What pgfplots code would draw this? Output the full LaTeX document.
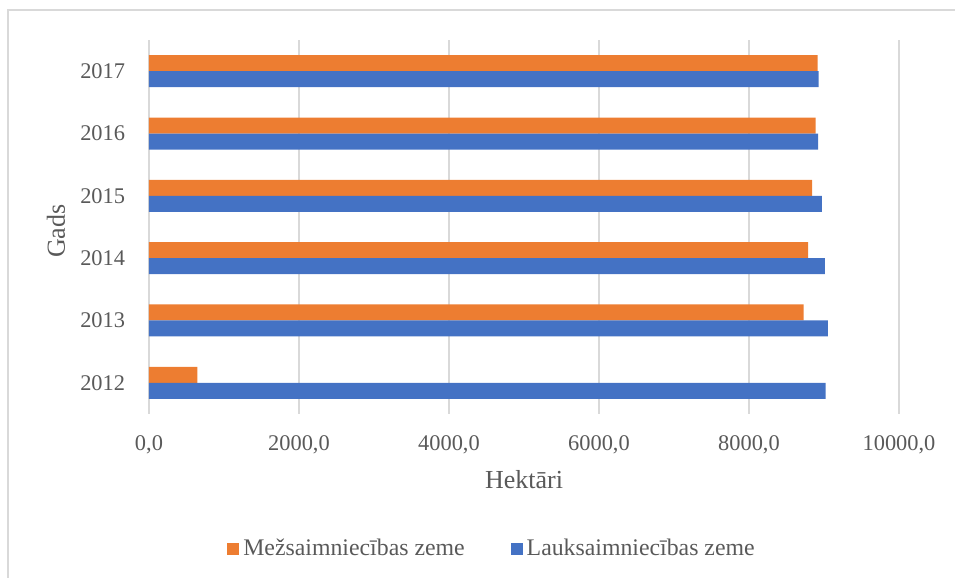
\documentclass[border=0pt]{standalone}
\usepackage{pgfplots}
\pgfplotsset{compat=1.18}
\usepackage{fontspec}
\setmainfont{Liberation Serif}
\definecolor{cOrange}{HTML}{ED7D31}
\definecolor{cBlue}{HTML}{4472C4}
\definecolor{cText}{HTML}{595959}
\definecolor{cGrid}{HTML}{D9D9D9}
\begin{document}
\begin{tikzpicture}
\path[use as bounding box] (-74.5pt,-82pt) rectangle (403pt,207pt);
\draw[cGrid, line width=1pt] (-70.5pt,-82pt) -- (-70.5pt,202pt) -- (403pt,202pt);
\begin{axis}[
  scale only axis,
  width=375pt, height=187pt,
  xbar,
  bar width=8pt,
  xmin=0, xmax=10000,
  ymin=-0.5, ymax=5.5,
  xtick={0,2000,4000,6000,8000,10000},
  scaled x ticks=false,
  ytick={0,1,2,3,4,5},
  yticklabels={2012,2013,2014,2015,2016,2017},
  xmajorgrids,
  grid style={cGrid, line width=1pt},
  axis line style={draw=none},
  tick style={draw=none},
  /pgf/number format/assume math mode=true,
  /pgf/number format/.cd, fixed, fixed zerofill, precision=1, use comma, 1000 sep={},
  /pgfplots/.cd,
  every tick label/.append style={font=\fontsize{11.2pt}{13pt}\selectfont, text=cText},
  xticklabel style={anchor=base, inner sep=0pt, yshift=-18.3pt},
  yticklabel style={anchor=east, inner sep=0pt, xshift=-7.5pt},
  xlabel={Hektāri},
  ylabel={Gads},
  xlabel style={at={(axis description cs:0.5,-0.198)}, anchor=base, font=\fontsize{13pt}{15pt}\selectfont, text=cText},
  ylabel style={at={(axis description cs:-0.124,0.489)}, anchor=center, font=\fontsize{13pt}{15pt}\selectfont, text=cText},
  legend columns=2,
  legend style={at={(axis description cs:0.4587,-0.361)}, anchor=center, draw=none, fill=none,
    font=\fontsize{11.9pt}{14pt}\selectfont, text=cText,
    /tikz/every even column/.append style={column sep=21pt},
    inner sep=0pt},
  legend image code/.code={\fill[#1] (0pt,-3pt) rectangle (6pt,3pt);},
]
\addplot[fill=cOrange, draw=none, bar shift=4pt] coordinates {
  (644,0) (8729,1) (8787,2) (8840,3) (8889,4) (8916,5)};
\addlegendentry{Mežsaimniecības zeme}
\addplot[fill=cBlue, draw=none, bar shift=-4pt] coordinates {
  (9022,0) (9053,1) (9013,2) (8973,3) (8920,4) (8929,5)};
\addlegendentry{Lauksaimniecības zeme}
\end{axis}
\end{tikzpicture}
\end{document}
